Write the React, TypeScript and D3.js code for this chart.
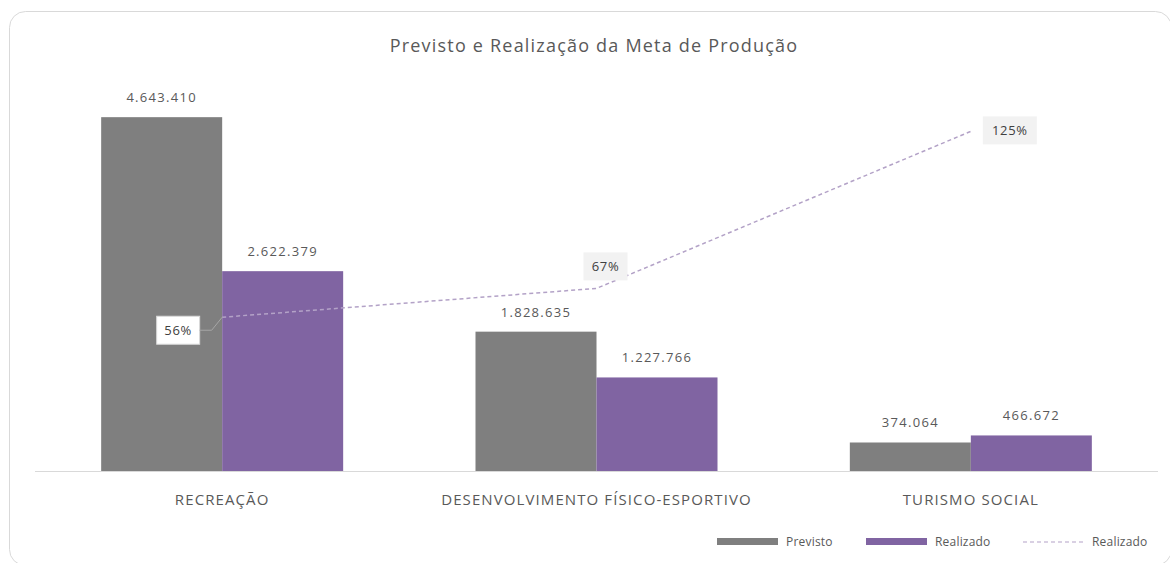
import React, { useEffect, useRef } from "react";
import * as d3 from "d3";

const categories = ["RECREAÇÃO", "DESENVOLVIMENTO FÍSICO-ESPORTIVO", "TURISMO SOCIAL"];
const previsto = [4643410, 1828635, 374064];
const realizado = [2622379, 1227766, 466672];
const percentual = [56.5, 67.1, 124.8];
const percentLabels = ["56%", "67%", "125%"];
const seriesNames = ["Previsto", "Realizado", "Realizado"];

const fmt = (v: number) => d3.format(",")(v).replace(/,/g, ".");

const App = () => {
  const ref = useRef<HTMLDivElement>(null);

  useEffect(() => {
    const width = 1170;
    const height = 563;
    const plot = { left: 35, right: 1158, top: 90, bottom: 471 };
    const font = "'Open Sans', sans-serif";

    d3.select(ref.current).select("svg").remove();

    const svg = d3
      .select(ref.current)
      .append("svg")
      .attr("width", width)
      .attr("height", height)
      .style("position", "absolute")
      .style("left", "0px")
      .style("top", "0px")
      .style("font-family", font);

    // chart frame
    svg
      .append("rect")
      .attr("x", 9.5)
      .attr("y", 11.5)
      .attr("width", 1162)
      .attr("height", 554)
      .attr("rx", 16)
      .attr("fill", "#fff")
      .attr("stroke", "#d9d9d9");

    svg
      .append("text")
      .attr("x", 594)
      .attr("y", 52)
      .attr("text-anchor", "middle")
      .style("font-size", "18px")
      .style("letter-spacing", "1.2px")
      .attr("fill", "#595959")
      .text("Previsto e Realização da Meta de Produção");

    const x0 = d3.scaleBand().domain(categories).range([plot.left, plot.right]);
    const barW = 121;
    const x1 = d3
      .scaleBand()
      .domain(["previsto", "realizado"])
      .range([x0.bandwidth() / 2 - barW, x0.bandwidth() / 2 + barW]);

    const y = d3.scaleLinear().domain([0, 5000000]).range([plot.bottom, plot.top]);
    const y2 = d3.scaleLinear().domain([0, 140]).range([plot.bottom, plot.top]);

    const groups = svg
      .selectAll("g.cat")
      .data(categories)
      .enter()
      .append("g")
      .attr("class", "cat")
      .attr("transform", (d) => `translate(${x0(d)},0)`);

    const bars = [
      { key: "previsto", values: previsto, color: "#7f7f7f" },
      { key: "realizado", values: realizado, color: "#8064a2" },
    ];

    bars.forEach((s) => {
      groups
        .append("rect")
        .attr("x", x1(s.key)!)
        .attr("y", (d, i) => y(s.values[i]))
        .attr("width", x1.bandwidth())
        .attr("height", (d, i) => plot.bottom - y(s.values[i]))
        .attr("fill", s.color);

      groups
        .append("text")
        .attr("x", x1(s.key)! + x1.bandwidth() / 2)
        .attr("y", (d, i) => y(s.values[i]) - 15)
        .attr("text-anchor", "middle")
        .style("font-size", "13px")
        .style("letter-spacing", "1.3px")
        .attr("fill", "#595959")
        .text((d, i) => fmt(s.values[i]));
    });

    // category axis
    svg
      .append("line")
      .attr("x1", plot.left)
      .attr("x2", plot.right)
      .attr("y1", plot.bottom + 0.5)
      .attr("y2", plot.bottom + 0.5)
      .attr("stroke", "#d9d9d9");

    svg
      .selectAll("text.cat")
      .data(categories)
      .enter()
      .append("text")
      .attr("class", "cat")
      .attr("x", (d) => x0(d)! + x0.bandwidth() / 2)
      .attr("y", 505)
      .attr("text-anchor", "middle")
      .style("font-size", "15px")
      .style("letter-spacing", "1.1px")
      .attr("fill", "#595959")
      .text((d) => d);

    // percentage line (secondary axis)
    const pts = categories.map((c, i) => [x0(c)! + x0.bandwidth() / 2, y2(percentual[i])] as [number, number]);

    svg
      .append("path")
      .attr("d", d3.line()(pts))
      .attr("fill", "none")
      .attr("stroke", "#b3a2c7")
      .attr("stroke-width", 1.5)
      .attr("stroke-dasharray", "4,3");

    const offsets = [
      [-44, 13],
      [9, -22],
      [39, -1],
    ];
    const boxW = [43, 44, 54];

    pts.forEach((p, i) => {
      const cx = p[0] + offsets[i][0];
      const cy = p[1] + offsets[i][1];
      const g = svg.append("g");
      g.append("rect")
        .attr("x", cx - boxW[i] / 2)
        .attr("y", cy - 14)
        .attr("width", boxW[i])
        .attr("height", 28)
        .attr("fill", i === 0 ? "#fff" : "#f2f2f2")
        .attr("stroke", i === 0 ? "#d9d9d9" : "none");
      g.append("text")
        .attr("x", cx)
        .attr("y", cy + 5)
        .attr("text-anchor", "middle")
        .style("font-size", "13px")
        .style("letter-spacing", "0.7px")
        .attr("fill", "#404040")
        .text(percentLabels[i]);
      if (i === 0) {
        svg
          .append("path")
          .attr("d", d3.line()([[cx + boxW[i] / 2, cy], [cx + boxW[i] / 2 + 12, cy], p]))
          .attr("fill", "none")
          .attr("stroke", "#a6a6a6")
          .attr("stroke-width", 1);
      }
    });

    // legend
    const legend = svg.append("g").attr("transform", "translate(0,542)");
    const legendX = [717, 866, 1023];
    seriesNames.forEach((name, i) => {
      const lg = legend.append("g").attr("transform", `translate(${legendX[i]},0)`);
      if (i < 2) {
        lg.append("rect")
          .attr("x", 0)
          .attr("y", -4)
          .attr("width", 61)
          .attr("height", 7)
          .attr("fill", bars[i].color);
      } else {
        lg.append("line")
          .attr("x1", 0)
          .attr("x2", 61)
          .attr("y1", 0)
          .attr("y2", 0)
          .attr("stroke", "#b3a2c7")
          .attr("stroke-width", 1.2)
          .attr("stroke-dasharray", "4,3");
      }
      lg.append("text")
        .attr("x", 69)
        .attr("y", 4)
        .style("font-size", "12px")
        .style("letter-spacing", "0.2px")
        .attr("fill", "#595959")
        .text(name);
    });
  }, []);

  return <div ref={ref}></div>;
};

export default App;
